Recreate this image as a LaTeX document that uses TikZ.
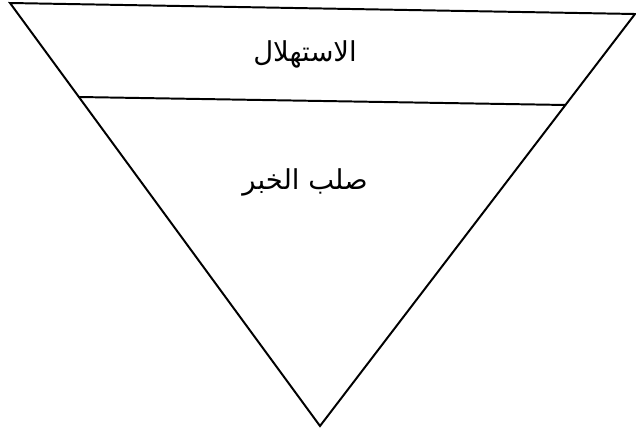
\documentclass[tikz,border=0pt]{standalone}
\usepackage{fontspec}
\newfontfamily\arabicfont[Script=Arabic]{DejaVu Sans}
\TeXXeTstate=1
\usepackage{tikz}

\begin{document}
\begin{tikzpicture}[x=0.025cm, y=-0.025cm, line width=1.4pt]
    \useasboundingbox (0,0) rectangle (636,434);
    \coordinate (topleft) at (10,3);
    \coordinate (topright) at (635,14);
    \coordinate (apex) at (320,426);
    \coordinate (midleft) at (79,97);
    \coordinate (midright) at (566,105);

    \draw (topleft) -- (topright) -- (apex) -- cycle;
    \draw (midleft) -- (midright);

    \node (intro) at (305,54) {\fontsize{19.5}{22}\selectfont\arabicfont\beginR الاستهلال\endR};
    \node (body) at (305,182) {\fontsize{19.5}{22}\selectfont\arabicfont\beginR صلب الخبر\endR};
\end{tikzpicture}
\end{document}
